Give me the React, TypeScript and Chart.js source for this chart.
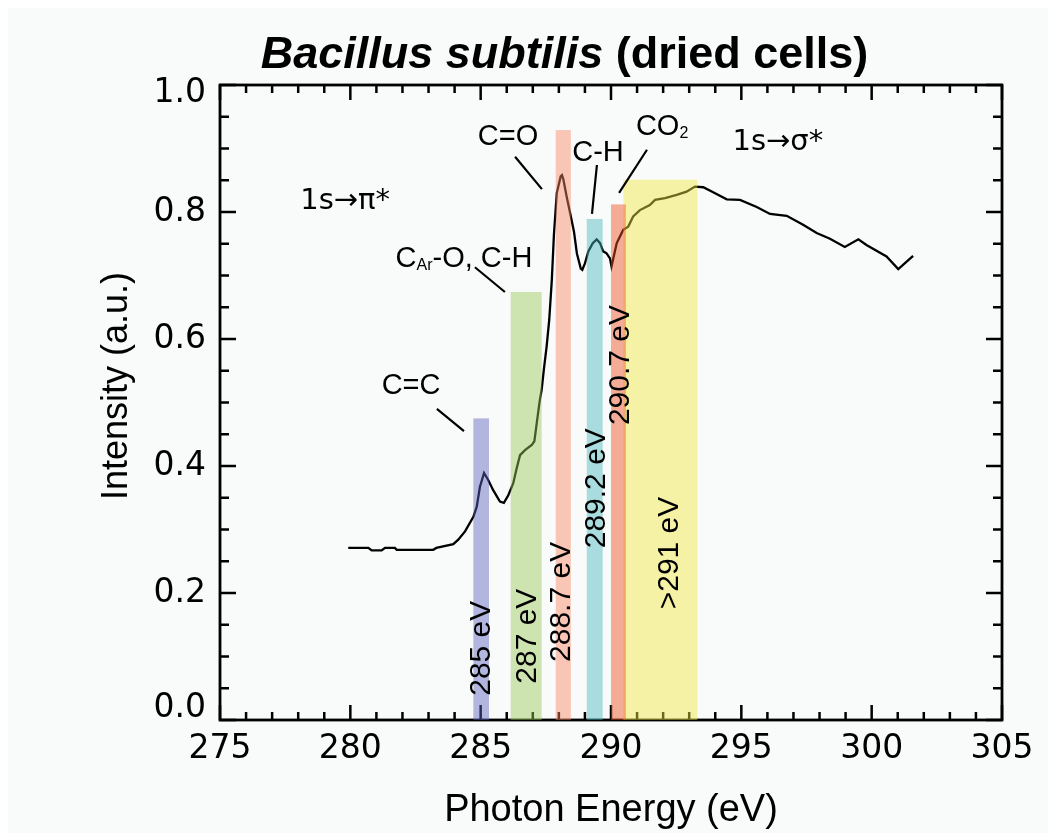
import React, { useEffect, useRef } from "react";
import { Chart, registerables } from "chart.js";

Chart.register(...registerables);

// ---- Data ----
const energy = [
  279.92, 280.69, 280.82, 281.2, 281.33, 281.71, 281.78, 283.18, 283.3, 283.95,
  284.14, 284.4, 284.72, 284.85, 284.97, 285.13, 285.29, 285.48, 285.74, 285.89,
  286.06, 286.25, 286.38, 286.51, 286.7, 286.96, 287.06, 287.15, 287.27, 287.34,
  287.43, 287.53, 287.63, 287.73, 287.81, 287.92, 288.07, 288.12, 288.17, 288.3,
  288.45, 288.58, 288.69, 288.84, 288.9, 289.0, 289.13, 289.3, 289.45, 289.58,
  289.7, 289.83, 289.96, 290.02, 290.09, 290.22, 290.34, 290.47, 290.66, 290.85,
  291.11, 291.49, 291.69, 292.07, 292.52, 292.9, 293.22, 293.54, 293.92, 294.44,
  294.95, 295.59, 296.1, 296.74, 297.37, 297.89, 298.4, 298.97, 299.49, 299.8,
  300.57, 301.02, 301.59,
];
const intensity = [
  0.271, 0.271, 0.267, 0.267, 0.271, 0.271, 0.268, 0.268, 0.271, 0.277,
  0.284, 0.297, 0.32, 0.336, 0.367, 0.389, 0.378, 0.362, 0.344, 0.342,
  0.354, 0.373, 0.396, 0.417, 0.425, 0.433, 0.439, 0.467, 0.504, 0.52,
  0.554, 0.588, 0.63, 0.693, 0.764, 0.83, 0.856, 0.858, 0.852, 0.824,
  0.795, 0.769, 0.735, 0.711, 0.709, 0.719, 0.738, 0.751, 0.757, 0.751,
  0.738, 0.735, 0.727, 0.714, 0.727, 0.751, 0.761, 0.772, 0.777, 0.793,
  0.803, 0.811, 0.819, 0.822, 0.827, 0.832, 0.84, 0.839, 0.831, 0.82,
  0.819, 0.808, 0.797, 0.794, 0.78, 0.767, 0.758, 0.745, 0.757, 0.748,
  0.73, 0.71, 0.731,
];

const xTickValues = [275, 280, 285, 290, 295, 300, 305];
const xTickLabels = ["275", "280", "285", "290", "295", "300", "305"];
const yTickValues = [0, 0.2, 0.4, 0.6, 0.8, 1.0];
const yTickLabels = ["0.0", "0.2", "0.4", "0.6", "0.8", "1.0"];

// Energy bands
const bandStart = [284.72, 286.15, 287.88, 289.07, 290.47, 290.0];
const bandEnd = [285.32, 287.34, 288.46, 289.68, 293.31, 290.57];
const bandTop = [0.475, 0.674, 0.929, 0.789, 0.851, 0.812];
const bandColors = ["#5b64bd", "#99ca57", "#f98864", "#45b8bd", "#f0e940", "#f04e1d"];
const bandLabels = ["285 eV", "287 eV", "288.7 eV", "289.2 eV", ">291 eV", "290.7 eV"];
const bandLabelX = [285.05, 286.82, 288.12, 289.46, 292.26, 290.38];
const bandLabelY = [0.113, 0.132, 0.186, 0.365, 0.263, 0.559];

// Annotations (text segments, centre in data coords)
const annotationTexts = [
  [["1s\u2192\u03c0*", 0]],
  [["1s\u2192\u03c3*", 0]],
  [["C=O", 0]],
  [["C-H", 0]],
  [["CO", 0], ["2", 1]],
  [["C=C", 0]],
  [["C", 0], ["Ar", 1], ["-O, C-H", 0]],
];
const annotationX = [279.8, 296.4, 286.05, 289.5, 291.96, 282.33, 284.36];
const annotationY = [0.816, 0.91, 0.918, 0.893, 0.934, 0.526, 0.726];
const annotationBig = [1, 1, 0, 0, 0, 0, 0];

// Leader lines [x1, y1, x2, y2] in data coords
const leaderLines = [
  [283.32, 0.49, 284.36, 0.455],
  [284.78, 0.713, 285.93, 0.674],
  [286.32, 0.887, 287.35, 0.836],
  [289.46, 0.874, 289.27, 0.797],
  [291.38, 0.898, 290.31, 0.83],
];

const TITLE_ITALIC = "Bacillus subtilis";
const TITLE_REST = " (dried cells)";
const X_TITLE = "Photon Energy (eV)";
const Y_TITLE = "Intensity (a.u.)";

const SANS = '"Liberation Sans", Arial, Helvetica, sans-serif';
const TICKFONT = '"DejaVu Sans", Verdana, sans-serif';
const ARROWFONT = '"DejaVu Sans", "Liberation Sans", sans-serif';

const overlayPlugin = {
  id: "overlay",
  afterDatasetsDraw(chart: any) {
    const { ctx, chartArea } = chart;
    const xs = chart.scales.x;
    const ys = chart.scales.y;
    const L = chartArea.left, R = chartArea.right, T = chartArea.top, B = chartArea.bottom;

    // ---- frame and inward ticks ----
    ctx.save();
    ctx.strokeStyle = "#000";
    ctx.lineWidth = 2.5;
    ctx.lineCap = "butt";
    ctx.beginPath();
    for (let v = 275; v <= 305; v++) {
      const px = xs.getPixelForValue(v);
      const len = v % 5 === 0 ? 15 : 8;
      ctx.moveTo(px, B);
      ctx.lineTo(px, B - len);
      ctx.moveTo(px, T);
      ctx.lineTo(px, T + len);
    }
    for (let i = 0; i <= 20; i++) {
      const v = i * 0.05;
      const py = ys.getPixelForValue(v);
      const len = i % 4 === 0 ? 16 : 9;
      ctx.moveTo(L, py);
      ctx.lineTo(L + len, py);
      ctx.moveTo(R, py);
      ctx.lineTo(R - len, py);
    }
    ctx.stroke();
    ctx.lineWidth = 2.8;
    ctx.strokeRect(L, T, R - L, B - T);
    ctx.restore();

    // ---- bands (translucent, over curve and axis) ----
    ctx.save();
    ctx.globalAlpha = 0.45;
    for (let i = 0; i < bandStart.length; i++) {
      const x0 = xs.getPixelForValue(bandStart[i]);
      const x1 = xs.getPixelForValue(bandEnd[i]);
      const yt = ys.getPixelForValue(bandTop[i]);
      const yb = ys.getPixelForValue(0);
      ctx.fillStyle = bandColors[i];
      ctx.fillRect(x0, yt, x1 - x0, yb - yt);
    }
    ctx.restore();

    // ---- band labels (rotated) ----
    ctx.save();
    ctx.fillStyle = "#000";
    ctx.font = `30px ${SANS}`;
    ctx.textAlign = "center";
    ctx.textBaseline = "middle";
    for (let i = 0; i < bandLabels.length; i++) {
      const px = xs.getPixelForValue(bandLabelX[i]);
      const py = ys.getPixelForValue(bandLabelY[i]);
      ctx.save();
      ctx.translate(px, py);
      ctx.rotate(-Math.PI / 2);
      ctx.fillText(bandLabels[i], 0, 0);
      ctx.restore();
    }
    ctx.restore();

    // ---- leader lines ----
    ctx.save();
    ctx.strokeStyle = "#000";
    ctx.lineWidth = 2.2;
    ctx.beginPath();
    for (const [x1, y1, x2, y2] of leaderLines) {
      ctx.moveTo(xs.getPixelForValue(x1), ys.getPixelForValue(y1));
      ctx.lineTo(xs.getPixelForValue(x2), ys.getPixelForValue(y2));
    }
    ctx.stroke();
    ctx.restore();

    // ---- annotations ----
    ctx.save();
    ctx.fillStyle = "#000";
    ctx.textBaseline = "middle";
    ctx.textAlign = "left";
    for (let i = 0; i < annotationTexts.length; i++) {
      const segs = annotationTexts[i] as any[];
      const big = annotationBig[i] === 1;
      const size = 29;
      const family = big ? ARROWFONT : SANS;
      const fonts = segs.map((s) => (s[1] ? `${Math.round(size * 0.55)}px ${family}` : `${size}px ${family}`));
      let total = 0;
      const widths = segs.map((s, k) => {
        ctx.font = fonts[k];
        const w = ctx.measureText(s[0]).width;
        total += w;
        return w;
      });
      let cx = xs.getPixelForValue(annotationX[i]) - total / 2;
      const cy = ys.getPixelForValue(annotationY[i]);
      segs.forEach((s, k) => {
        ctx.font = fonts[k];
        ctx.fillText(s[0], cx, s[1] ? cy + size * 0.22 : cy);
        cx += widths[k];
      });
    }
    ctx.restore();

    // ---- tick labels ----
    ctx.save();
    ctx.fillStyle = "#000";
    ctx.font = `33px ${TICKFONT}`;
    ctx.textAlign = "center";
    ctx.textBaseline = "middle";
    xTickValues.forEach((v, i) => {
      ctx.fillText(xTickLabels[i], xs.getPixelForValue(v), B + 29);
    });
    ctx.restore();

    ctx.save();
    ctx.fillStyle = "#000";
    ctx.font = `33px ${TICKFONT}`;
    ctx.textAlign = "right";
    ctx.textBaseline = "middle";
    yTickValues.forEach((v, i) => {
      let py = ys.getPixelForValue(v);
      py = Math.min(Math.max(py, T + 8), B - 12);
      ctx.fillText(yTickLabels[i], L - 14, py);
    });
    ctx.restore();

    // ---- titles ----
    ctx.save();
    ctx.fillStyle = "#000";
    ctx.textBaseline = "alphabetic";
    ctx.textAlign = "left";
    const f1 = `italic bold 45px ${SANS}`;
    const f2 = `bold 45px ${SANS}`;
    ctx.font = f1;
    const w1 = ctx.measureText(TITLE_ITALIC).width;
    ctx.font = f2;
    const w2 = ctx.measureText(TITLE_REST).width;
    const tx = 556.5 - (w1 + w2) / 2;
    ctx.font = f1;
    ctx.fillText(TITLE_ITALIC, tx, 60);
    ctx.font = f2;
    ctx.fillText(TITLE_REST, tx + w1, 60);

    ctx.font = `38px ${SANS}`;
    ctx.textAlign = "center";
    ctx.fillText(X_TITLE, (L + R) / 2, 813);

    ctx.save();
    ctx.translate(119, 378);
    ctx.rotate(-Math.PI / 2);
    ctx.font = `36px ${SANS}`;
    ctx.textAlign = "center";
    ctx.fillText(Y_TITLE, 0, 0);
    ctx.restore();
    ctx.restore();
  },
};

export default function App() {
  const canvasRef = useRef<HTMLCanvasElement | null>(null);

  useEffect(() => {
    const canvas = canvasRef.current;
    if (!canvas) return;
    const chart = new Chart(canvas, {
      type: "line",
      data: {
        datasets: [
          {
            data: energy.map((e, i) => ({ x: e, y: intensity[i] })),
            borderColor: "#000",
            borderWidth: 2.3,
            pointRadius: 0,
            tension: 0,
            fill: false,
          },
        ],
      },
      options: {
        responsive: false,
        animation: false,
        events: [],
        layout: { padding: { left: 212, right: 46, top: 77, bottom: 113 } },
        scales: {
          x: { type: "linear", min: 275, max: 305, display: false },
          y: { type: "linear", min: 0, max: 1, display: false },
        },
        plugins: {
          legend: { display: false },
          tooltip: { enabled: false },
          title: { display: false },
        },
      },
      plugins: [overlayPlugin],
    } as any);
    return () => chart.destroy();
  }, []);

  return (
    <div
      style={{
        position: "fixed",
        left: 8,
        top: 8,
        width: 1040,
        height: 825,
        background: "#f9fafa",
      }}
    >
      <canvas ref={canvasRef} width={1040} height={825} style={{ display: "block" }} />
    </div>
  );
}
